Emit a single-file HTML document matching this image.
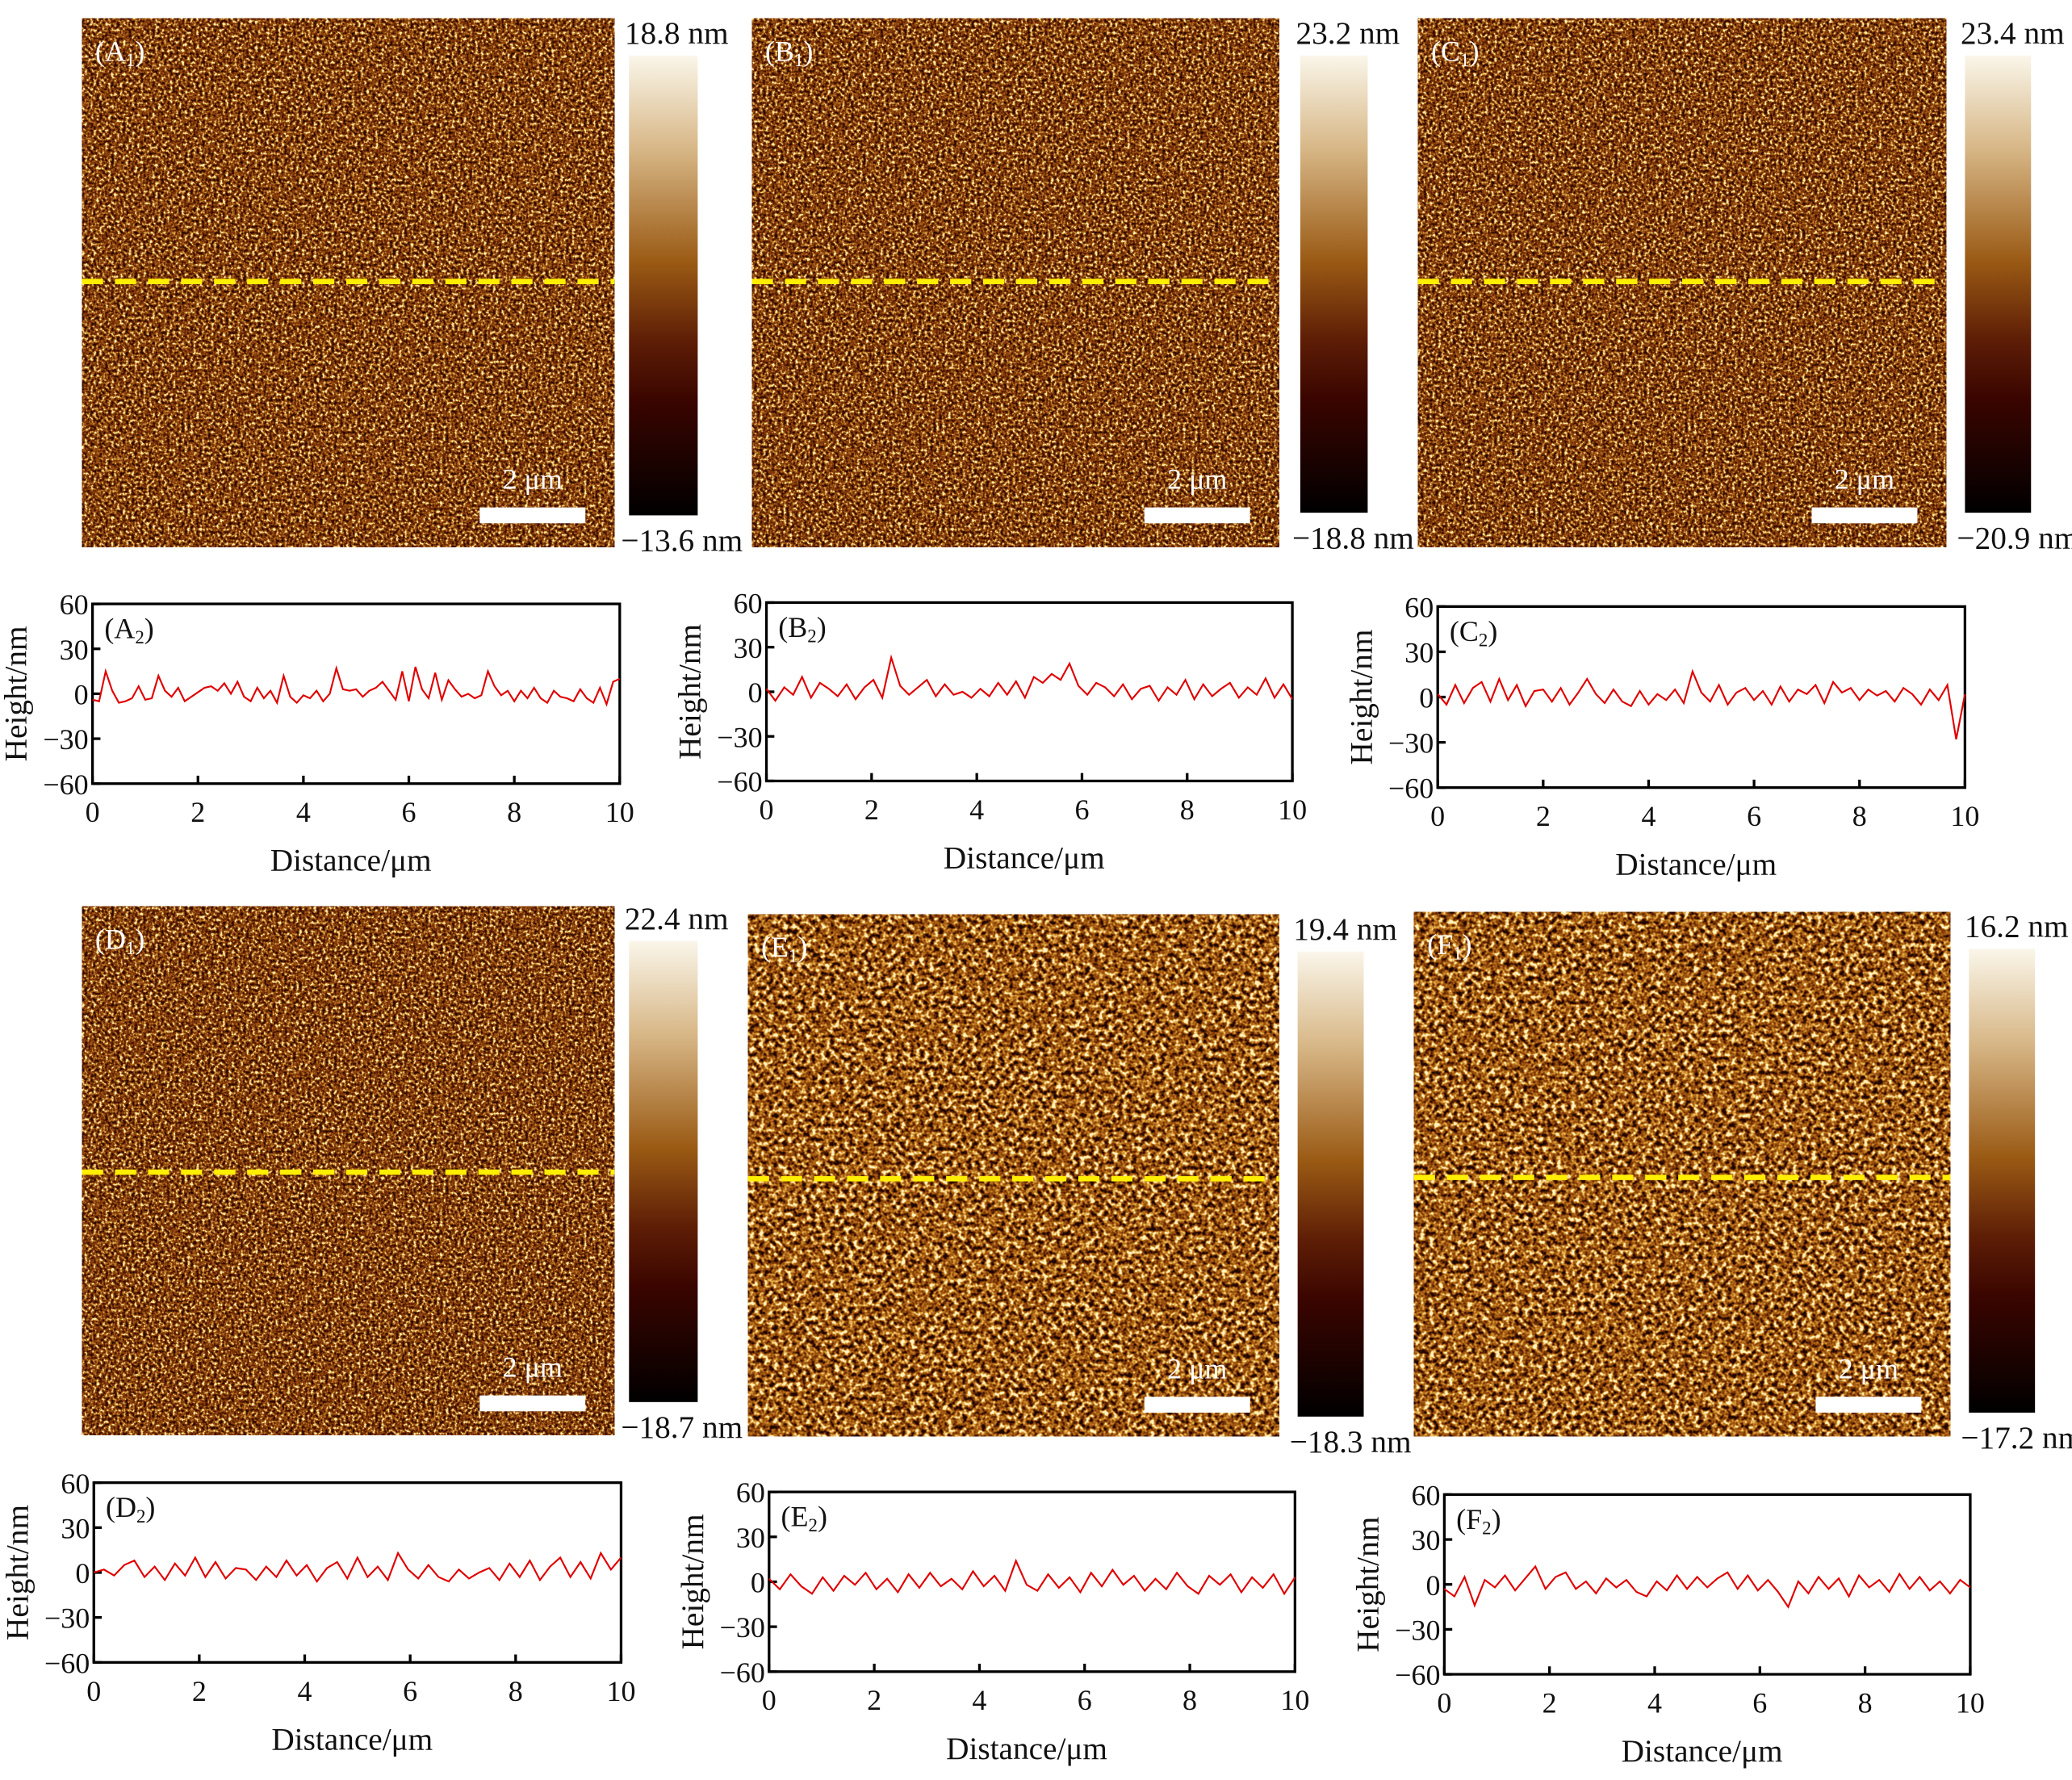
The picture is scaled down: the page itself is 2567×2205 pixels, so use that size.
<!DOCTYPE html>
<html><head><meta charset="utf-8"><style>
html,body{margin:0;padding:0;background:#fff}
svg{display:block}
text{font-family:"Liberation Serif",serif;fill:#111}
</style></head><body>
<svg id="fig" width="2567" height="2205" viewBox="0 0 1568 1347" preserveAspectRatio="none" xmlns="http://www.w3.org/2000/svg">
<defs>
<filter id="tex" x="0" y="0" width="100%" height="100%" color-interpolation-filters="sRGB">
<feTurbulence type="fractalNoise" baseFrequency="0.45" numOctaves="2" seed="3"/>
<feColorMatrix type="matrix" values="1 0 0 0 0 1 0 0 0 0 1 0 0 0 0 0 0 0 0 1"/>
<feComponentTransfer>
<feFuncR type="linear" slope="2.2" intercept="-0.62"/>
<feFuncG type="linear" slope="2.2" intercept="-0.62"/>
<feFuncB type="linear" slope="2.2" intercept="-0.62"/>
</feComponentTransfer>
<feComponentTransfer>
<feFuncR type="table" tableValues="0.15 0.33 0.48 0.6 0.8 1"/>
<feFuncG type="table" tableValues="0.04 0.11 0.2 0.32 0.58 0.95"/>
<feFuncB type="table" tableValues="0 0.01 0.03 0.08 0.22 0.7"/>
<feFuncA type="table" tableValues="1 1"/>
</feComponentTransfer>
</filter>
<filter id="tex2" x="0" y="0" width="100%" height="100%" color-interpolation-filters="sRGB">
<feTurbulence type="fractalNoise" baseFrequency="0.28" numOctaves="2" seed="7"/>
<feColorMatrix type="matrix" values="1 0 0 0 0 1 0 0 0 0 1 0 0 0 0 0 0 0 0 1"/>
<feComponentTransfer>
<feFuncR type="linear" slope="2.4" intercept="-0.7"/>
<feFuncG type="linear" slope="2.4" intercept="-0.7"/>
<feFuncB type="linear" slope="2.4" intercept="-0.7"/>
</feComponentTransfer>
<feComponentTransfer>
<feFuncR type="table" tableValues="0.12 0.35 0.55 0.7 0.88 1"/>
<feFuncG type="table" tableValues="0.03 0.13 0.27 0.42 0.65 0.95"/>
<feFuncB type="table" tableValues="0 0.01 0.04 0.1 0.25 0.75"/>
<feFuncA type="table" tableValues="1 1"/>
</feComponentTransfer>
</filter>
<linearGradient id="cbar" x1="0" y1="0" x2="0" y2="1">
<stop offset="0" stop-color="#faf6ea"/>
<stop offset="0.2" stop-color="#d8b888"/>
<stop offset="0.45" stop-color="#9a5a14"/>
<stop offset="0.62" stop-color="#5e1e06"/>
<stop offset="0.75" stop-color="#3a0500"/>
<stop offset="1" stop-color="#000"/>
</linearGradient>
</defs>
</svg>
<script>
// ---- data ----
const xTicks = [0,2,4,6,8,10];
const yTicks = [60,30,0,-30,-60];
const profileA = [-4,-5,15,2,-6,-5,-3,5,-4,-3,12,2,-2,4,-5,-2,1,4,5,2,7,0,8,-2,-5,4,-3,2,-6,12,-2,-6,-1,-3,2,-5,0,17,3,2,3,-2,2,4,8,2,-4,15,-5,18,3,-3,14,-4,9,3,-2,0,-3,-1,15,5,-1,2,-5,2,-3,4,-3,-6,2,-2,-3,-5,3,-3,-6,4,-7,8,10];
const profileB = [2,-6,3,-2,10,-4,6,2,-3,5,-5,3,8,-4,23,4,-2,3,8,-3,5,-2,0,-4,2,-3,6,-2,7,-4,10,6,12,8,19,4,-2,6,3,-3,5,-5,2,4,-6,3,-2,8,-5,5,-3,2,6,-4,3,-2,9,-4,5,-5];
const profileC = [2,-5,8,-4,6,10,-3,12,-2,8,-6,4,5,-3,6,-5,3,12,2,-4,5,-3,-6,4,-5,2,-2,5,-4,17,3,-3,8,-5,3,6,-2,4,-5,7,-3,5,2,8,-4,10,3,6,-2,5,1,4,-3,6,2,-5,5,-2,8,-28,2];
const profileD = [0,2,-2,5,8,-3,4,-5,6,-2,10,-3,7,-4,3,2,-5,4,-3,8,-2,5,-6,3,7,-4,10,-3,4,-5,13,2,-4,5,-3,-6,2,-4,0,3,-5,6,-3,8,-5,4,10,-3,7,-4,13,2,10];
const profileE = [2,-5,5,-3,-8,3,-6,4,-2,6,-5,2,-7,5,-4,6,-3,2,-5,7,-3,4,-6,14,-2,-6,5,-4,3,-7,6,-3,8,-2,4,-6,2,-5,6,-3,-8,4,-2,5,-7,3,-4,5,-8,3];
const profileF = [-3,-8,5,-14,3,-2,6,-4,4,12,-3,5,8,-3,2,-6,4,-2,3,-5,-8,2,-4,6,-3,5,-2,4,8,-3,6,-4,3,-5,-15,2,-6,5,-3,4,-8,6,-2,3,-5,7,-3,5,-4,2,-6,3,-2];
const profiles = [profileA,profileB,profileC,profileD,profileE,profileF];
const cbTop = ["18.8 nm","23.2 nm","23.4 nm","22.4 nm","19.4 nm","16.2 nm"];
const cbBot = ["\u221213.6 nm","\u221218.8 nm","\u221220.9 nm","\u221218.7 nm","\u221218.3 nm","\u221217.2 nm"];
const letters = ["A","B","C","D","E","F"];

// ---- layout ----
const imgs = [[62,14,403,400,213],[569,14,399,400,213],[1073,14,400,400,213],[62,686,403,400,887],[566,692,402,395,892],[1070,690,406,397,891]];
const cbs = [[476,42,52,348],[984,42,51,346],[1487,42,50,346],[476,712,52,349],[982,720,50,352],[1490,718,50,351]];
const plots = [[70,457,399,136],[580,456,398,135],[1088,459,399,137],[71,1122,399,136],[582,1129,398,136],[1093,1131,398,136]];
const NS="http://www.w3.org/2000/svg";
const svg=document.getElementById('fig');
function mk(tag,attrs,parent){const e=document.createElementNS(NS,tag);for(const k in attrs)e.setAttribute(k,attrs[k]);(parent||svg).appendChild(e);return e;}
function txt(s,x,y,size,anchor,parent){const t=mk('text',{x:x,y:y,'font-size':size,'text-anchor':anchor||'start'},parent);t.textContent=s;return t;}

for(let i=0;i<6;i++){
  const [ix,iy,iw,ih,dy]=imgs[i];
  const g=mk('g',{});
  
  
  mk('rect',{x:ix,y:iy,width:iw,height:ih,fill:'#7a4210',filter:i>=4?'url(#tex2)':'url(#tex)'},g);
  const dl=mk('line',{x1:ix,x2:ix+iw,y1:dy,y2:dy,stroke:'#ffee00','stroke-width':4,'stroke-dasharray':'16 9'},g);
  
  
  const lb=txt('('+letters[i],ix+10,iy+32,22,'start',g);
  const sub=mk('tspan',{'font-size':14,dy:4},lb);sub.textContent='1';
  const cl=mk('tspan',{'font-size':22,dy:-4},lb);cl.textContent=')';
  lb.setAttribute('style','fill:#fff');
  const sbx=ix+iw-102, sby=iy+ih-30;
  const sb=mk('rect',{x:sbx,y:sby,width:80,height:12,fill:'#fff'},g);
  
  
  const st=txt('2 \u03bcm',sbx+40,sby-14,22,'middle',g);st.setAttribute('style','fill:#fff');
  const [cx,cy,cw,ch]=cbs[i];
  const cb=mk('rect',{x:cx,y:cy,width:cw,height:ch,fill:'url(#cbar)'});
  
  
  const t1=txt(cbTop[i],cx+36,cy-9,24,'middle');
  
  
  const t2=txt(cbBot[i],cx+40,cy+ch+27,24,'middle');
  
  
}

for(let i=0;i<6;i++){
  const [px,py,pw,ph]=plots[i];
  const data=profiles[i];
  const xs=v=>px+v/10*pw;
  const ys=v=>py+(60-v)/120*ph;
  const g=mk('g',{});
  
  
  mk('rect',{x:px,y:py,width:pw,height:ph,fill:'none',stroke:'#000','stroke-width':2},g);
  yTicks.forEach(v=>{
    mk('line',{x1:px,x2:px+6,y1:ys(v),y2:ys(v),stroke:'#000','stroke-width':2},g);
    const t=txt(v<0?'\u2212'+(-v):String(v),px-3,ys(v)+8,22,'end',g);
    
    
  });
  xTicks.forEach(v=>{
    mk('line',{x1:xs(v),x2:xs(v),y1:py+ph,y2:py+ph-6,stroke:'#000','stroke-width':2},g);
    const t=txt(String(v),xs(v),py+ph+29,22,'middle',g);
    
    
  });
  let d='';
  data.forEach((v,k)=>{d+=(k?'L':'M')+xs(k/(data.length-1)*10).toFixed(2)+' '+ys(v).toFixed(2);});
  const p=mk('path',{d:d,fill:'none',stroke:'#e00000','stroke-width':1.3},g);
  
  
  const lb=txt('('+letters[i],px+9,py+26,22,'start',g);
  const sub=mk('tspan',{'font-size':14,dy:4},lb);sub.textContent='2';
  const cl=mk('tspan',{'font-size':22,dy:-4},lb);cl.textContent=')';
  const xt=txt('Distance/\u03bcm',px+pw/2-4,py+ph+66,24,'middle',g);
  
  
  const yt=txt('Height/nm',0,0,24,'middle',g);
  yt.setAttribute('transform','translate('+(px-50)+','+(py+ph/2)+') rotate(-90)');
  
  
}
</script>
</body></html>
